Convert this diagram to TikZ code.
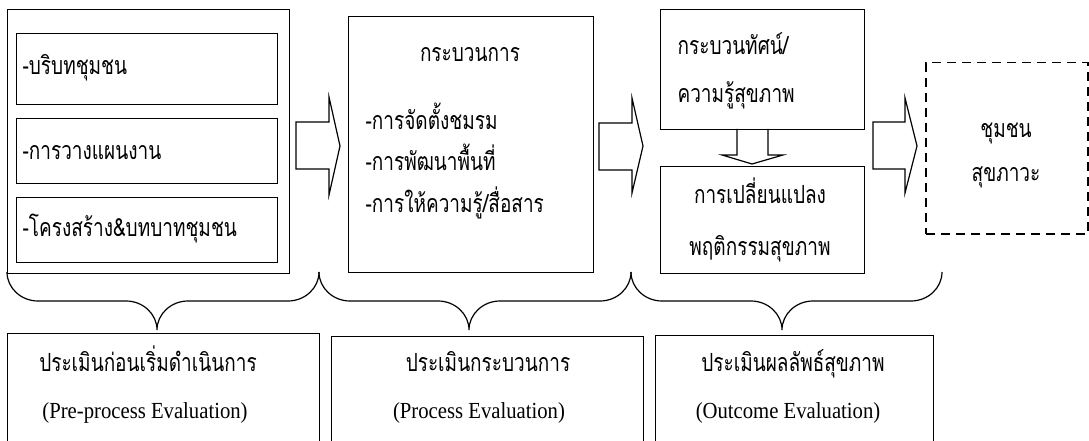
\documentclass[tikz,border=0pt]{standalone}
\usepackage{fontspec}
\setmainfont[FakeStretch=0.9]{Liberation Serif}
\newfontfamily\thai[Script=Thai,FakeStretch=0.76]{Loma}
\newcommand\mybrace[3]{%
  \draw (#1,272) .. controls (#1,288) and ({#1+14},301) .. ({#1+31},301)
    -- ({#2-31},301) .. controls ({#2-14},301) and (#2,314) .. (#2,330)
    .. controls (#2,314) and ({#2+14},301) .. ({#2+31},301)
    -- ({#3-31},301) .. controls ({#3-14},301) and (#3,288) .. (#3,272);}
\begin{document}
\begin{tikzpicture}[x=1pt,y=-1pt,line width=1.2pt,
  box/.style={draw,rectangle,inner sep=0pt,anchor=north west},
  th/.style={font=\thai\fontsize{25}{30}\selectfont,inner sep=0pt,anchor=base west},
  thc/.style={th,anchor=base},
  en/.style={font=\fontsize{23}{27}\selectfont,inner sep=0pt,anchor=base},
  blockarrow/.style={draw,line join=miter}]
\useasboundingbox (0,0) rectangle (1089,441);
\clip (0,0) rectangle (1089,441);
% boxes
\node[box,minimum width=282pt,minimum height=264pt] (pre) at (7,9) {};
\node[box,minimum width=261pt,minimum height=71pt] (c1) at (16,33) {};
\node[box,minimum width=261pt,minimum height=65pt] (c2) at (16,118) {};
\node[box,minimum width=261pt,minimum height=65pt] (c3) at (16,197) {};
\node[box,minimum width=245pt,minimum height=256pt] (proc) at (348,16) {};
\node[box,minimum width=204pt,minimum height=120pt] (know) at (660,9) {};
\node[box,minimum width=204pt,minimum height=107pt] (beh) at (660,166) {};
\node[box,dash pattern=on 9pt off 6pt,line width=1.5pt,minimum width=162pt,minimum height=171pt] (goal) at (925,62) {};
\node[box,minimum width=312pt,minimum height=130pt] (e1) at (7,333) {};
\node[box,minimum width=312pt,minimum height=130pt] (e2) at (331,336) {};
\node[box,minimum width=278pt,minimum height=130pt] (e3) at (655,335) {};
% texts
\node[th] (t1) at (22,75) {-บริบทชุมชน};
\node[th] (t2) at (22,160) {-การวางแผนงาน};
\node[th] (t3) at (22,236) {-โครงสร้าง\&บทบาทชุมชน};
\node[thc] (pt) at (470,62) {กระบวนการ};
\node[th] (p1) at (365,130) {-การจัดตั้งชมรม};
\node[th] (p2) at (365,170) {-การพัฒนาพื้นที่};
\node[th] (p3) at (365,212) {-การให้ความรู้/สื่อสาร};
\node[th] (k1) at (677,55) {กระบวนทัศน์/};
\node[th] (k2) at (677,103) {ความรู้สุขภาพ};
\node[thc] (b1) at (760,203) {การเปลี่ยนแปลง};
\node[thc] (b2) at (760,255) {พฤติกรรมสุขภาพ};
\node[thc] (o1) at (1006,138) {ชุมชน};
\node[thc] (o2) at (1006,181) {สุขภาวะ};
\node[thc] (e1t) at (148,371) {ประเมินก่อนเริ่มดำเนินการ};
\node[en] (e1e) at (145,418) {(Pre-process Evaluation)};
\node[thc] (e2t) at (488,371) {ประเมินกระบวนการ};
\node[en] (e2e) at (479,418) {(Process Evaluation)};
\node[thc] (e3t) at (793,371) {ประเมินผลลัพธ์สุขภาพ};
\node[en] (e3e) at (788,418) {(Outcome Evaluation)};
% block arrows
\draw[blockarrow] (296,122) -- (329,122) -- (329,97) -- (340,146) -- (329,195) -- (329,169) -- (296,169) -- cycle;
\draw[blockarrow] (599,123) -- (632,123) -- (632,98) -- (643,146) -- (632,193) -- (632,170) -- (599,170) -- cycle;
\draw[blockarrow] (873,122) -- (905,122) -- (905,98) -- (917,146) -- (905,193) -- (905,169) -- (873,169) -- cycle;
\draw[blockarrow] (737,129) -- (737,155) -- (722,155) -- (752,164) -- (783,155) -- (768,155) -- (768,129);
% braces
\mybrace{7}{157}{319}
\mybrace{319}{469}{631}
\mybrace{631}{782}{942}
\end{tikzpicture}
\end{document}
